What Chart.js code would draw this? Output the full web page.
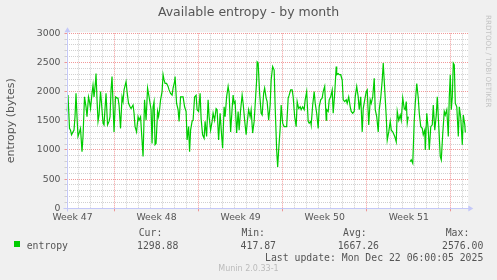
<!DOCTYPE html>
<html>
<head>
<meta charset="utf-8">
<title>Available entropy - by month</title>
<script src="https://cdn.jsdelivr.net/npm/chart.js@4.4.1/dist/chart.umd.min.js"></script>
<style>
  html, body { margin:0; padding:0; background:#f0f0f0; }
  #wrap { position:relative; width:497px; height:280px; overflow:hidden; }
  #c { position:absolute; left:0; top:0; }
  .txt { position:absolute; white-space:pre; line-height:1; color:#555; }
  .sans { font-family:'DejaVu Sans', sans-serif; }
  .mono { font-family:'DejaVu Sans Mono', monospace; font-size:9.8px; }
  #title { left:0; width:497px; text-align:center; top:6.4px; font-size:12.5px; }
  #rrd { left:484.8px; top:15px; font-size:7.2px; color:#c4c4c4; writing-mode:vertical-rl; }
  #swatch { position:absolute; left:14px; top:241px; width:6px; height:6px; background:#00cc00; }
  #munin { left:0; width:497px; text-align:center; top:265.2px; font-size:8px; color:#bbb; }
</style>
</head>
<body>
<div id="wrap">
  <canvas id="c" width="497" height="280"></canvas>
  <div class="txt sans" id="title">Available entropy - by month</div>
  <div class="txt sans" id="rrd">RRDTOOL / TOBI OETIKER</div>
  <div id="swatch"></div>
  <div id="legend"></div>
  <div class="txt sans" id="munin">Munin 2.0.33-1</div>
</div>
<script>
// hours since Mon 17 Nov 2025 00:00 (start of week 47)
const hours = [
  73,75,78,80,82,85,87,89,91,93,
  95,98,100,103,105,108,111,113,116,118,
  120,123,125,127,130,131,133,135,137,140,
  142,145,147,149,151,154,157,159,161,163,
  167,170,173,175,177,180,183,185,187,191,
  193,196,199,201,205,207,209,212,215,217,
  220,225,228,231,234,237,241,243,245,247,
  249,251,254,256,258,260,263,265,267,269,
  272,275,277,280,283,285,288,289,292,295,
  297,300,303,305,308,311,313,316,318,320,
  323,325,328,331,333,336,339,341,344,347,
  349,352,355,357,360,363,365,368,371,373,
  376,379,381,384,387,389,392,395,397,400,
  403,405,407,409,412,415,417,420,423,425,
  428,431,433,436,439,441,444,447,449,452,
  453,455,458,461,463,466,468,471,473,476,
  479,481,484,487,489,492,494,496,499,501,
  504,507,509,512,515,517,520,523,525,528,
  531,533,536,539,541,544,547,549,552,555,
  557,560,561,564,567,569,572,575,577,580,
  583,585,588,591,592,595,597,600,603,605,
  608,611,612,615,617,620,623,625,628,631,
  633,636,639,641,644,647,649,652,655,657,
  660,663,665,668,671,673,676,679,681,684,
  687,689,692,695,697,700,703,705,708,711,
  713,716,719,721,724,728,731,733,736,739,
  741,744,747,749,751,753,755,757,759,761,
  764,767,769,772,775,777,780,783,785,788,
  789,792,795,797,800,803,805,808,811,813,
  816,819,821,824,827,829,832,835,837,839,
  841,843,845,847,849,852,855,857,860,863,
  865,868,869
];
const entropy = [
  1660,1940,1370,1340,1260,1310,1340,1570,1970,1570,
  1230,1310,1370,970,1230,1910,1740,1570,1910,1830,
  1710,1970,2110,1910,2170,2310,1860,1490,1600,2000,
  1800,1460,1430,1710,1970,1430,1490,1570,2030,2260,
  1310,1910,1890,1890,1770,1370,1910,1830,2030,2170,
  2000,1800,1740,1710,1770,1630,1400,1310,1570,1510,
  1570,890,1860,1510,2060,1910,1690,1110,1740,1830,
  1090,1110,1660,1570,1690,1860,2000,2290,2200,2140,
  2140,2090,2030,1970,1940,2060,2170,2260,1800,1690,
  1490,1910,1910,1910,1740,1660,1170,1400,970,1340,
  1490,1510,1910,1940,1690,1660,1970,1540,1260,1200,
  1490,1230,1860,1570,1340,1490,1630,1510,1710,1690,
  1170,1630,1370,1030,1740,1570,1910,2090,1970,1310,
  1710,1940,1800,1830,1290,1660,1340,1690,1940,1800,
  1510,1260,1460,1690,1570,1690,1290,1490,1770,2200,
  2510,2490,1970,1630,1600,1970,2060,1890,1830,1510,
  1770,2200,2430,2370,1740,1000,710,1000,1370,1770,
  1460,1400,1400,1400,1890,1940,2030,2030,1910,1570,
  1400,1830,1710,1740,1690,1740,1690,1860,2000,1490,
  1460,1490,1430,1770,2000,1800,1630,1370,1740,1860,
  1890,2000,2090,1510,1690,1660,1860,1910,2030,1630,
  1970,2430,2290,2310,2290,2290,2200,1860,1830,1860,
  1800,1910,1740,1660,1630,1660,1910,2090,1910,1690,
  1910,1310,1710,1860,2000,2030,1430,1860,1800,1910,
  2230,1690,1570,1310,1690,1890,2200,2490,2030,1570,
  1170,1310,1490,1340,1310,1230,1140,1660,1510,1600,
  1510,1890,1710,1690,1830,1460,1570,null,800,830,
  770,1510,1800,2140,1890,1630,1400,1370,1260,1340,
  1000,1630,1340,1000,1400,1430,1770,1340,1600,1910,
  1400,890,830,1290,1660,1600,1690,1230,1910,2290,
  1690,1910,2490,2460,1800,1740,1230,1740,1540,1090,
  1600,1430,1300
];
const weekLabels = ['Week 47','Week 48','Week 49','Week 50','Week 51'];
const weekMid    = [84, 252, 420, 588, 756];
const weekStart  = [168, 336, 504, 672, 840];
const yLabels    = [0, 500, 1000, 1500, 2000, 2500, 3000];
const X_MIN = 72, X_MAX = 875, Y_MAX = 3000;

const statLabels = ['Cur:', 'Min:', 'Avg:', 'Max:'];
const statValues = ['1298.88', '417.87', '1667.26', '2576.00'];
const seriesName = 'entropy';
const lastUpdate = 'Last update: Mon Dec 22 06:00:05 2025';

const C = {
  text:'#555555', axis:'#c4c8f8', major:'rgba(235,110,110,0.7)', minor:'#d0d0d0',
  line:'#00cc00', plot:'#ffffff',
  sans:"'DejaVu Sans', sans-serif"
};

/* legend block (html text) */
const colRight = [162.3, 265, 366.7, 469.3];
const valRight = [178.3, 276, 379, 483.3];
const leg = document.getElementById('legend');
const put = (txt, css) => { const d = document.createElement('div'); d.className = 'txt mono'; d.textContent = txt; Object.assign(d.style, css); leg.appendChild(d); };
put(seriesName, {left:'26.7px', top:'240.7px'});
statLabels.forEach((s,i) => put(s, {right:(497-colRight[i])+'px', top:'228.4px'}));
statValues.forEach((s,i) => put(s, {right:(497-valRight[i])+'px', top:'240.7px'}));
put(lastUpdate, {right:(497-483.3)+'px', top:'252.7px'});

/* plot background + axes with arrows */
const plotBg = {
  id:'plotBg',
  beforeDraw(chart){
    const {ctx, chartArea:a} = chart;
    ctx.save(); ctx.fillStyle = C.plot;
    ctx.fillRect(a.left, a.top - 1, a.right - a.left, a.bottom - a.top + 1);
    ctx.restore();
  }
};
const axes = {
  id:'axes',
  afterDraw(chart){
    const {ctx, chartArea:a} = chart;
    const x0 = Math.round(a.left) + 0.5, y0 = Math.round(a.bottom) + 0.5;
    ctx.save();
    ctx.strokeStyle = C.axis; ctx.fillStyle = C.axis; ctx.lineWidth = 1;
    ctx.beginPath();
    ctx.moveTo(x0 - 4, y0); ctx.lineTo(a.right + 1, y0);
    ctx.moveTo(x0, y0 + 3); ctx.lineTo(x0, a.top - 1);
    ctx.stroke();
    ctx.beginPath();
    ctx.moveTo(a.right, y0 - 3); ctx.lineTo(a.right + 5, y0); ctx.lineTo(a.right, y0 + 3); ctx.closePath();
    ctx.moveTo(x0 - 3, a.top - 1); ctx.lineTo(x0, a.top - 6); ctx.lineTo(x0 + 3, a.top - 1); ctx.closePath();
    ctx.fill();
    ctx.restore();
  }
};

const xGrid = v => weekMid.includes(v) ? 'rgba(0,0,0,0)' : (weekStart.includes(v) ? C.major : C.minor);
const yGrid = v => v === 0 ? 'rgba(0,0,0,0)' : (v % 500 === 0 ? C.major : C.minor);

new Chart(document.getElementById('c'), {
  type:'line',
  data:{datasets:[{
    label:seriesName,
    data:hours.map((h,i) => ({x:h, y:entropy[i]})),
    borderColor:C.line, borderWidth:1.2, pointRadius:0, tension:0, spanGaps:false, fill:false
  }]},
  options:{
    responsive:false, animation:false, devicePixelRatio:1,
    layout:{padding:{top:33.3, right:28.7, bottom:51.7, left:0}},
    plugins:{legend:{display:false}, tooltip:{enabled:false}},
    scales:{
      x:{
        type:'linear', min:X_MIN, max:X_MAX,
        afterBuildTicks(scale){
          const t = [];
          for (let h = X_MIN + 24; h <= X_MAX; h += 24) t.push({value:h});
          weekMid.forEach(v => t.push({value:v}));
          scale.ticks = t.sort((p,q) => p.value - q.value);
        },
        afterFit(scale){ scale.height = 20; },
        grid:{color:c => xGrid(c.tick.value), lineWidth:1, tickLength:3,
              tickColor:c => weekStart.includes(c.tick.value) ? C.major : 'rgba(0,0,0,0)'},
        border:{display:false, dash:[1,1]},
        ticks:{autoSkip:false, maxRotation:0, minRotation:0, padding:0.5, color:C.text,
               font:{family:C.sans, size:9.3},
               callback:v => { const i = weekMid.indexOf(v); return i < 0 ? '' : weekLabels[i]; }}
      },
      y:{
        type:'linear', min:0, max:Y_MAX,
        afterBuildTicks(scale){
          const t = [];
          for (let v = 0; v <= Y_MAX; v += 100) t.push({value:v});
          scale.ticks = t;
        },
        afterFit(scale){ scale.width = 66.5; },
        grid:{color:c => yGrid(c.tick.value), lineWidth:1, tickLength:2,
              tickColor:c => yGrid(c.tick.value)},
        border:{display:false, dash:[1,1]},
        title:{display:true, text:'entropy (bytes)', color:C.text,
               font:{family:C.sans, size:11}, padding:{top:4.4, bottom:0}},
        ticks:{autoSkip:false, padding:4, color:C.text, font:{family:C.sans, size:9.3},
               callback:v => yLabels.includes(v) ? String(v) : ''}
      }
    }
  },
  plugins:[plotBg, axes]
});
</script>
</body>
</html>
